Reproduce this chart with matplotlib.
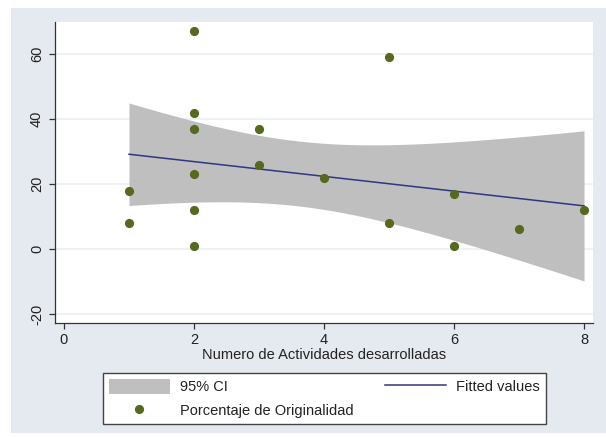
import matplotlib.pyplot as plt
from matplotlib.patches import Rectangle, Patch
from matplotlib.lines import Line2D
import numpy as np

plt.rcParams['font.family'] = ['Liberation Sans', 'DejaVu Sans']

# Numero de actividades vs porcentaje de originalidad
actividades = [1, 1, 2, 2, 2, 2, 2, 2, 3, 3, 4, 5, 5, 6, 6, 7, 8]
originalidad = [18, 8, 67, 42, 37, 23, 12, 1, 37, 26, 22, 59, 8, 17, 1, 6, 12]

x_ticks = [0, 2, 4, 6, 8]
y_ticks = [-20, 0, 20, 40, 60]

t_975 = 2.131  # t(0.975, n - 2 = 15)

bg = '#E5EAF0'
band_color = '#BFBFBF'
point_color = '#56691F'
line_color = '#2F3683'

x = np.array(actividades, dtype=float)
y = np.array(originalidad, dtype=float)
n = len(x)

# linear fit with 95% CI of the mean prediction
slope, intercept = np.polyfit(x, y, 1)
resid = y - (intercept + slope * x)
s = np.sqrt(np.sum(resid ** 2) / (n - 2))
sxx = np.sum((x - x.mean()) ** 2)
xs = np.linspace(x.min(), x.max(), 200)
fit = intercept + slope * xs
se = s * np.sqrt(1.0 / n + (xs - x.mean()) ** 2 / sxx)
lo, hi = fit - t_975 * se, fit + t_975 * se

fig = plt.figure(figsize=(6.06, 4.38), dpi=100, facecolor='white')
fig.patches.append(Rectangle((11 / 606, 1 - 433 / 438), 1 - 11 / 606, (433 - 8) / 438,
                             transform=fig.transFigure, facecolor=bg,
                             edgecolor='none', zorder=-10))

ax = fig.add_axes([55 / 606, 1 - 323 / 438, (593 - 55) / 606, (323 - 22) / 438])
ax.set_facecolor('white')

ax.fill_between(xs, lo, hi, color=band_color, lw=0, zorder=2)
ax.plot(xs, fit, color=line_color, lw=1.1, zorder=3)
ax.plot(x, y, 'o', color=point_color, ms=5.6, mec=point_color, zorder=4)

ax.set_xlim(-0.138, 8.138)
ax.set_ylim(-22.8, 69.9)
ax.set_xticks(x_ticks)
ax.set_yticks(y_ticks)
ax.set_yticklabels([str(v) for v in y_ticks], rotation=90, va='center')

for v in y_ticks:
    ax.axhline(v, color='#EAF0F3', lw=1.2, zorder=1)

for side in ['top', 'right']:
    ax.spines[side].set_visible(False)
for side in ['left', 'bottom']:
    ax.spines[side].set_color('#333333')
    ax.spines[side].set_linewidth(0.9)

ax.tick_params(axis='both', length=4, width=0.9, color='#333333',
               labelsize=10.5, labelcolor='#222222')
ax.tick_params(axis='y', pad=4)
ax.tick_params(axis='x', pad=3)
ax.set_xlabel('Numero de Actividades desarrolladas', fontsize=10.5,
              color='#222222', labelpad=1)

handles = [
    Patch(facecolor=band_color, edgecolor='none'),
    Line2D([], [], ls='none', marker='o', color=point_color, ms=5.6),
    Line2D([], [], color=line_color, lw=1.1),
]
labels = ['95% CI', 'Porcentaje de Originalidad', 'Fitted values']
leg = fig.legend(handles, labels, ncol=2, loc='upper left',
                 bbox_to_anchor=(103 / 606, 1 - 373 / 438),
                 fontsize=10.5, frameon=True, fancybox=False,
                 edgecolor='#444444', facecolor='white', framealpha=1,
                 handlelength=4.2, handleheight=1.2, handletextpad=0.7,
                 columnspacing=2.1, labelspacing=0.6, borderpad=0.4,
                 borderaxespad=0)
leg.get_frame().set_linewidth(1.0)
for t in leg.get_texts():
    t.set_color('#222222')

fig.savefig('out.png', dpi=100, facecolor=fig.get_facecolor())
